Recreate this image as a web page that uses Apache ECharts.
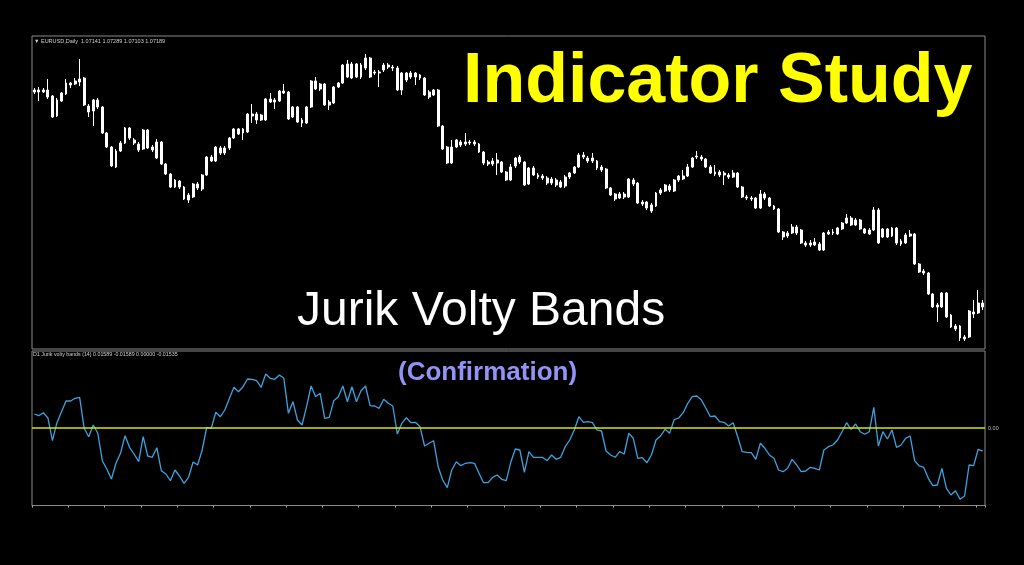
<!DOCTYPE html>
<html><head><meta charset="utf-8">
<style>html,body{margin:0;padding:0;background:#000;}#c{width:1024px;height:565px;}</style>
<script src="https://cdn.jsdelivr.net/npm/echarts@6/dist/echarts.min.js"></script>
</head><body><div id="c"></div>
<script>
// EURUSD daily candles (open, close, low, high)
const openP = [1.1094,1.1090,1.1094,1.1094,1.1082,1.1042,1.1072,1.1086,1.1104,1.1106,
1.1110,1.1118,1.1062,1.1052,1.1074,1.1060,1.1008,1.0980,1.0972,1.0972,
1.0988,1.1018,1.0994,1.0986,1.0976,1.1014,1.0980,1.0990,1.0990,1.0946,
1.0926,1.0900,1.0912,1.0900,1.0884,1.0880,1.0898,1.0896,1.0924,1.0952,
1.0952,1.0978,1.0968,1.0978,1.0998,1.1016,1.1008,1.1010,1.1042,1.1046,
1.1044,1.1034,1.1070,1.1074,1.1072,1.1088,1.1090,1.1040,1.1060,1.1034,
1.1028,1.1060,1.1112,1.1096,1.1106,1.1070,1.1068,1.1100,1.1108,1.1146,
1.1118,1.1146,1.1120,1.1138,1.1158,1.1130,1.1128,1.1134,1.1140,1.1140,
1.1138,1.1094,1.1114,1.1120,1.1128,1.1124,1.1118,1.1090,1.1084,1.1094,
1.1022,1.0980,1.0948,1.0980,1.0990,1.0986,1.0990,1.0990,1.0986,1.0970,
1.0950,1.0946,1.0948,1.0950,1.0930,1.0914,1.0942,1.0950,1.0950,1.0906,
1.0938,1.0924,1.0922,1.0918,1.0908,1.0914,1.0910,1.0902,1.0920,1.0928,
1.0940,1.0960,1.0958,1.0952,1.0952,1.0940,1.0936,1.0898,1.0886,1.0878,
1.0886,1.0880,1.0914,1.0908,1.0870,1.0870,1.0864,1.0862,1.0888,1.0892,
1.0902,1.0892,1.0914,1.0916,1.0922,1.0940,1.0960,1.0960,1.0956,1.0940,
1.0930,1.0924,1.0928,1.0924,1.0920,1.0928,1.0900,1.0880,1.0878,1.0878,
1.0858,1.0878,1.0878,1.0862,1.0856,1.0810,1.0802,1.0808,1.0820,1.0814,
1.0788,1.0784,1.0784,1.0786,1.0774,1.0806,1.0810,1.0806,1.0816,1.0828,
1.0838,1.0824,1.0834,1.0816,1.0806,1.0814,1.0854,1.0800,1.0816,1.0802,
1.0818,1.0792,1.0788,1.0802,1.0806,1.0746,1.0732,1.0728,1.0686,1.0664,
1.0660,1.0688,1.0644,1.0622,1.0622,1.0600,1.0600,1.0650,1.0648,1.0668];
const closeP = [1.1090,1.1094,1.1090,1.1080,1.1040,1.1074,1.1088,1.1108,1.1108,1.1112,
1.1116,1.1064,1.1050,1.1074,1.1060,1.1008,1.0980,1.0942,1.0940,1.0988,
1.1018,1.0998,1.0988,1.0974,1.1014,1.0978,1.0974,1.0958,1.0946,1.0926,
1.0900,1.0914,1.0900,1.0876,1.0874,1.0906,1.0906,1.0924,1.0960,1.0960,
1.0980,1.0968,1.0978,1.0998,1.1016,1.1006,1.1016,1.1046,1.1046,1.1034,
1.1034,1.1076,1.1076,1.1070,1.1092,1.1092,1.1036,1.1060,1.1030,1.1028,
1.1060,1.1112,1.1096,1.1106,1.1064,1.1064,1.1100,1.1108,1.1144,1.1120,
1.1146,1.1120,1.1144,1.1158,1.1120,1.1128,1.1130,1.1144,1.1144,1.1138,
1.1094,1.1128,1.1128,1.1128,1.1120,1.1118,1.1084,1.1080,1.1094,1.1022,
1.0976,1.0948,1.0980,1.0994,1.0984,1.0990,1.0988,1.0986,1.0970,1.0948,
1.0946,1.0952,1.0954,1.0930,1.0914,1.0940,1.0958,1.0960,1.0904,1.0938,
1.0924,1.0920,1.0918,1.0908,1.0916,1.0904,1.0900,1.0920,1.0928,1.0940,
1.0964,1.0964,1.0952,1.0958,1.0938,1.0934,1.0898,1.0884,1.0876,1.0886,
1.0880,1.0916,1.0906,1.0868,1.0866,1.0858,1.0852,1.0888,1.0894,1.0904,
1.0894,1.0914,1.0922,1.0922,1.0940,1.0958,1.0962,1.0956,1.0940,1.0928,
1.0926,1.0930,1.0924,1.0920,1.0928,1.0900,1.0880,1.0878,1.0876,1.0858,
1.0886,1.0886,1.0862,1.0856,1.0810,1.0800,1.0808,1.0820,1.0808,1.0788,
1.0784,1.0788,1.0790,1.0774,1.0808,1.0810,1.0808,1.0818,1.0828,1.0838,
1.0824,1.0834,1.0816,1.0808,1.0814,1.0854,1.0788,1.0816,1.0800,1.0818,
1.0788,1.0786,1.0804,1.0806,1.0746,1.0730,1.0728,1.0686,1.0660,1.0660,
1.0688,1.0640,1.0620,1.0616,1.0598,1.0596,1.0652,1.0646,1.0668,1.0660];
const lowP = [1.1086,1.1072,1.1088,1.1076,1.1038,1.1040,1.1070,1.1084,1.1098,1.1104,
1.1102,1.1062,1.1040,1.1022,1.1056,1.1006,1.0978,1.0940,1.0938,1.0970,
1.0986,1.0994,1.0984,1.0970,1.0974,1.0976,1.0970,1.0956,1.0944,1.0924,
1.0898,1.0898,1.0896,1.0874,1.0868,1.0878,1.0894,1.0892,1.0922,1.0950,
1.0950,1.0964,1.0964,1.0974,1.0996,1.1004,1.0994,1.1008,1.1028,1.1026,
1.1032,1.1032,1.1068,1.1056,1.1070,1.1086,1.1034,1.1038,1.1028,1.1020,
1.1026,1.1058,1.1094,1.1092,1.1062,1.1054,1.1066,1.1098,1.1106,1.1118,
1.1116,1.1118,1.1116,1.1134,1.1118,1.1124,1.1100,1.1130,1.1136,1.1132,
1.1092,1.1084,1.1110,1.1116,1.1104,1.1114,1.1082,1.1076,1.1082,1.1020,
1.0974,1.0946,1.0946,1.0978,1.0980,1.0982,1.0984,1.0982,1.0968,1.0944,
1.0942,1.0942,1.0924,1.0928,1.0912,1.0912,1.0938,1.0946,1.0902,1.0904,
1.0922,1.0916,1.0914,1.0904,1.0904,1.0900,1.0898,1.0898,1.0916,1.0926,
1.0938,1.0956,1.0948,1.0948,1.0934,1.0930,1.0896,1.0882,1.0872,1.0876,
1.0876,1.0878,1.0902,1.0866,1.0862,1.0854,1.0848,1.0860,1.0884,1.0890,
1.0890,1.0890,1.0910,1.0914,1.0920,1.0938,1.0956,1.0952,1.0938,1.0926,
1.0922,1.0920,1.0904,1.0916,1.0918,1.0898,1.0878,1.0874,1.0872,1.0856,
1.0856,1.0874,1.0860,1.0854,1.0808,1.0794,1.0798,1.0806,1.0804,1.0786,
1.0780,1.0780,1.0782,1.0772,1.0772,1.0804,1.0804,1.0804,1.0814,1.0826,
1.0822,1.0822,1.0814,1.0806,1.0804,1.0812,1.0786,1.0798,1.0798,1.0800,
1.0784,1.0782,1.0786,1.0800,1.0744,1.0728,1.0724,1.0684,1.0658,1.0630,
1.0658,1.0638,1.0618,1.0612,1.0592,1.0592,1.0598,1.0638,1.0646,1.0654];
const highP = [1.1098,1.1100,1.1098,1.1116,1.1084,1.1078,1.1090,1.1116,1.1110,1.1118,
1.1156,1.1120,1.1066,1.1076,1.1078,1.1062,1.1010,1.0982,1.0976,1.0992,
1.1020,1.1020,1.0998,1.0990,1.1016,1.1016,1.0984,1.0996,1.0992,1.0948,
1.0928,1.0916,1.0914,1.0902,1.0888,1.0908,1.0910,1.0926,1.0962,1.0964,
1.0982,1.0982,1.0982,1.1000,1.1018,1.1018,1.1018,1.1048,1.1066,1.1050,
1.1046,1.1078,1.1088,1.1078,1.1094,1.1106,1.1092,1.1062,1.1062,1.1038,
1.1062,1.1114,1.1120,1.1108,1.1108,1.1074,1.1102,1.1110,1.1146,1.1154,
1.1150,1.1148,1.1148,1.1166,1.1160,1.1134,1.1134,1.1148,1.1148,1.1144,
1.1142,1.1130,1.1130,1.1132,1.1130,1.1126,1.1120,1.1094,1.1096,1.1096,
1.1024,1.0982,1.0994,1.0996,1.0994,1.1008,1.0994,1.0994,1.0988,1.0972,
1.0954,1.0958,1.0968,1.0952,1.0932,1.0946,1.0960,1.0964,1.0952,1.0940,
1.0942,1.0928,1.0926,1.0922,1.0920,1.0918,1.0914,1.0924,1.0930,1.0942,
1.0968,1.0970,1.0962,1.0968,1.0954,1.0944,1.0938,1.0900,1.0888,1.0890,
1.0890,1.0918,1.0918,1.0910,1.0874,1.0872,1.0868,1.0890,1.0898,1.0906,
1.0906,1.0916,1.0924,1.0934,1.0946,1.0960,1.0972,1.0964,1.0958,1.0944,
1.0944,1.0934,1.0932,1.0928,1.0934,1.0930,1.0902,1.0884,1.0882,1.0880,
1.0894,1.0890,1.0880,1.0864,1.0858,1.0812,1.0812,1.0826,1.0824,1.0816,
1.0792,1.0794,1.0798,1.0790,1.0810,1.0814,1.0816,1.0820,1.0830,1.0846,
1.0842,1.0838,1.0836,1.0818,1.0818,1.0860,1.0858,1.0818,1.0818,1.0820,
1.0820,1.0796,1.0808,1.0814,1.0808,1.0748,1.0736,1.0730,1.0688,1.0668,
1.0690,1.0690,1.0646,1.0626,1.0624,1.0604,1.0654,1.0674,1.0694,1.0674];
// Jurik volty bands oscillator
const jvb = [0.00933,0.0082,0.0102,0.00667,-0.00847,0.00353,0.01087,0.018,0.018,0.0198,
0.02047,-0.0002,-0.0058,0.002,-0.00353,-0.0218,-0.02753,-0.034,-0.02353,-0.01687,
-0.00513,-0.01287,-0.01733,-0.02247,-0.0058,-0.01867,-0.01953,-0.01313,-0.02847,-0.03067,
-0.03513,-0.028,-0.032,-0.03687,-0.03287,-0.02267,-0.02467,-0.01467,0.00047,-0.0002,
0.01047,0.00753,0.012,0.0198,0.02713,0.0242,0.02753,0.03267,0.03247,0.03153,
0.02713,0.036,0.03313,0.03247,0.03533,0.03313,0.0098,0.01753,0.00533,0.002,
0.0142,0.028,0.02087,0.02313,0.00647,0.00713,0.0182,0.02087,0.028,0.01753,
0.02753,0.01753,0.02487,0.028,0.01487,0.01467,0.01313,0.01913,0.01647,0.01467,
-0.004,0.00313,0.00687,0.00353,0.0038,0.00087,-0.012,-0.0102,-0.00847,-0.0258,
-0.03467,-0.0398,-0.028,-0.02247,-0.02513,-0.02353,-0.02313,-0.02353,-0.0302,-0.03647,
-0.03647,-0.03287,-0.03133,-0.0342,-0.03513,-0.02287,-0.014,-0.01467,-0.02953,-0.0158,
-0.01953,-0.01953,-0.01953,-0.0218,-0.018,-0.02087,-0.01953,-0.01247,-0.008,-0.00133,
0.00753,0.0038,0.0042,0.00353,-0.00133,-0.002,-0.01533,-0.018,-0.01953,-0.0158,
-0.01733,-0.00353,-0.00687,-0.0202,-0.0198,-0.02313,-0.018,-0.008,-0.00533,-0.00087,
-0.00353,0.00553,0.00667,0.0102,0.01647,0.02087,0.02133,0.01867,0.01313,0.00753,
0.008,0.0042,0.0038,0.00133,0.00353,-0.0058,-0.0158,-0.0162,-0.01647,-0.02087,
-0.0102,-0.01353,-0.018,-0.0202,-0.028,-0.02913,-0.02687,-0.02087,-0.02467,-0.02913,
-0.02867,-0.0262,-0.02687,-0.028,-0.01467,-0.01247,-0.01133,-0.008,-0.00247,0.00353,
-0.00087,0.00267,-0.00247,-0.0042,-0.00247,0.0138,-0.012,-0.00247,-0.00733,-0.00133,
-0.01287,-0.01133,-0.00687,-0.00533,-0.0218,-0.02533,-0.0262,-0.03353,-0.03847,-0.038,
-0.02687,-0.0402,-0.04467,-0.0418,-0.04753,-0.04533,-0.02467,-0.02513,-0.0142,-0.01535];
const zeroLevel = 0;
const bars = openP.map((_, i) => 'D' + (i + 1));
const candles = openP.map((o, i) => [o, closeP[i], lowP[i], highP[i]]);

const chart = echarts.init(document.getElementById('c'), null, {renderer: 'canvas'});
const frame = '#8a8a8a';
chart.setOption({
  backgroundColor: '#000',
  animation: false,
  grid: [
    {left: 32, right: 39, top: 36, height: 313, show: true, borderColor: frame, borderWidth: 1, backgroundColor: 'transparent'},
    {left: 32, right: 39, top: 351, height: 154.5, show: true, borderColor: frame, borderWidth: 1, backgroundColor: 'transparent'}
  ],
  xAxis: [
    {type: 'category', gridIndex: 0, data: bars, axisLine: {show: false}, axisTick: {show: false}, axisLabel: {show: false}, splitLine: {show: false}},
    {type: 'category', gridIndex: 1, data: bars, position: 'bottom',
     axisLine: {show: true, onZero: false, lineStyle: {color: frame}},
     axisTick: {show: true, interval: 7, length: 2, lineStyle: {color: '#aaa'}}, axisLabel: {show: false}, splitLine: {show: false}}
  ],
  yAxis: [
    {type: 'value', gridIndex: 0, min: 1.0576, max: 1.1202, show: false, splitLine: {show: false}},
    {type: 'value', gridIndex: 1, min: -0.05167, max: 0.05133, show: false, splitLine: {show: false}}
  ],
  series: [
    {type: 'candlestick', xAxisIndex: 0, yAxisIndex: 0, data: candles, barWidth: 2.4,
     itemStyle: {color: '#fff', color0: '#fff', borderColor: '#fff', borderColor0: '#fff', borderWidth: 1}},
    {type: 'line', xAxisIndex: 1, yAxisIndex: 1, data: jvb, showSymbol: false, symbol: 'none',
     lineStyle: {color: '#3ea2de', width: 1.3},
     markLine: {silent: true, symbol: ['none', 'none'],
       lineStyle: {color: '#e2e200', width: 1.5, type: 'solid'},
       label: {show: true, position: 'end', formatter: '0.00', color: '#bbb', fontSize: 5.5, fontFamily: 'Liberation Sans', distance: 3},
       data: [{yAxis: zeroLevel}]}}
  ],
  graphic: [
    {type: 'text', z: 100, style: {x: 34, y: 41.5, text: '▼ EURUSD,Daily  1.07141 1.07289 1.07103 1.07189', fill: '#d0d0d0', font: '5.5px "Liberation Sans"', textVerticalAlign: 'middle'}},
    {type: 'text', z: 100, style: {x: 33, y: 355, text: 'D1 Jurik volty bands (14) 0.01589 -0.01589 0.00000 -0.01535', fill: '#d0d0d0', font: '5.3px "Liberation Sans"', textVerticalAlign: 'middle'}},
    {type: 'text', z: 100, style: {x: 463, y: 83, text: 'Indicator Study', fill: '#ffff00', font: 'bold 70px "Liberation Sans"', textVerticalAlign: 'middle'}},
    {type: 'text', z: 100, style: {x: 297, y: 312, text: 'Jurik Volty Bands', fill: '#ffffff', font: '48px "Liberation Sans"', textVerticalAlign: 'middle'}},
    {type: 'text', z: 100, style: {x: 398, y: 373, text: '(Confirmation)', fill: '#9393f4', font: 'bold 26px "Liberation Sans"', textVerticalAlign: 'middle'}}
  ]
});
</script></body></html>
